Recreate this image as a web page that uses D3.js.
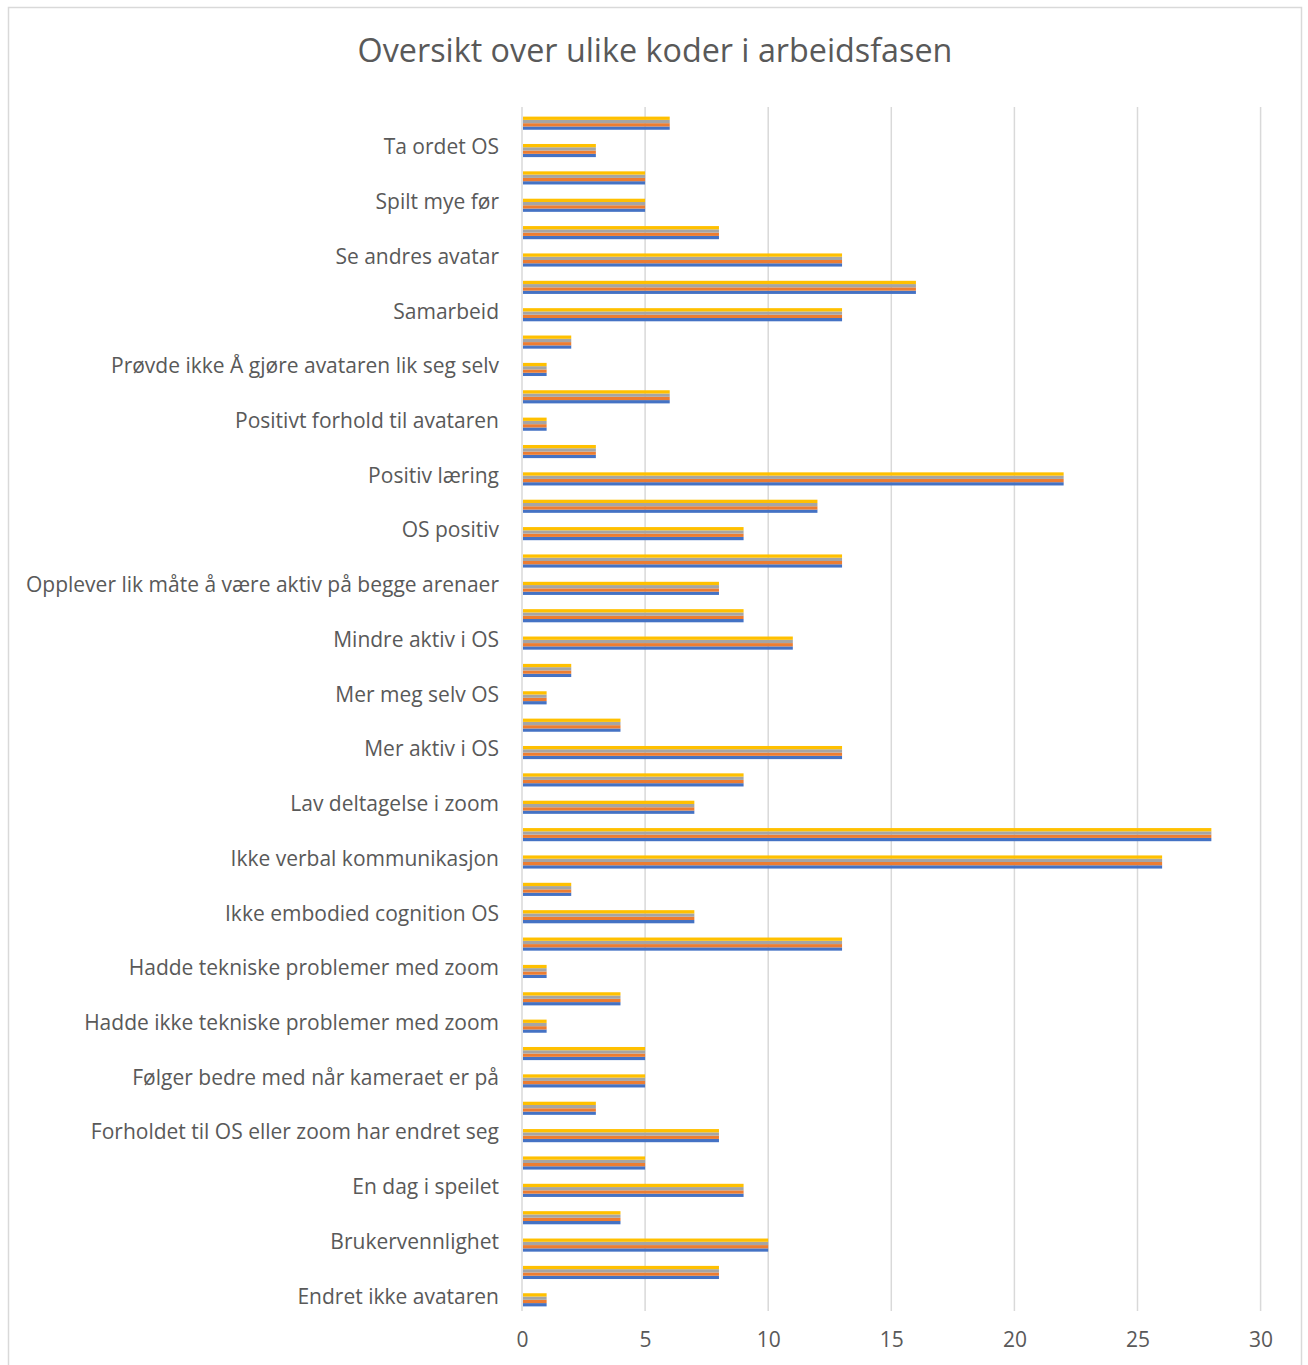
<!DOCTYPE html>
<html>
<head>
<meta charset="utf-8">
<script src="https://cdn.jsdelivr.net/npm/d3@7"></script>
<style>
  body { margin: 0; background: #fff; }
  svg { display: block; }
</style>
</head>
<body>
<svg id="chart" width="1308" height="1365"></svg>
<script>
// Chart title
const title = "Oversikt over ulike koder i arbeidsfasen";

// Categories top to bottom (only every other row has a visible label)
const categories = [
  "", "Ta ordet OS",
  "", "Spilt mye før",
  "", "Se andres avatar",
  "", "Samarbeid",
  "", "Prøvde ikke Å gjøre avataren lik seg selv",
  "", "Positivt forhold til avataren",
  "", "Positiv læring",
  "", "OS positiv",
  "", "Opplever lik måte å være aktiv på begge arenaer",
  "", "Mindre aktiv i OS",
  "", "Mer meg selv OS",
  "", "Mer aktiv i OS",
  "", "Lav deltagelse i zoom",
  "", "Ikke verbal kommunikasjon",
  "", "Ikke embodied cognition OS",
  "", "Hadde tekniske problemer med zoom",
  "", "Hadde ikke tekniske problemer med zoom",
  "", "Følger bedre med når kameraet er på",
  "", "Forholdet til OS eller zoom har endret seg",
  "", "En dag i speilet",
  "", "Brukervennlighet",
  "", "Endret ikke avataren"
];

// Counts per row, top to bottom
const values = [
  6, 3, 5, 5, 8, 13, 16, 13, 2, 1, 6, 1, 3, 22, 12, 9, 13, 8, 9, 11, 2, 1,
  4, 13, 9, 7, 28, 26, 2, 7, 13, 1, 4, 1, 5, 5, 3, 8, 5, 9, 4, 10, 8, 1
];

// Four series, all with the same counts (drawn bottom to top: blue, orange, gray, yellow)
const seriesNames = ["Serie1", "Serie2", "Serie3", "Serie4"];
const seriesValues = [values, values, values, values];
const seriesColors = ["#4472C4", "#ED7D31", "#A5A5A5", "#FFC000"];

const xTicks = [0, 5, 10, 15, 20, 25, 30];

const fontFamily = "'Open Sans', sans-serif";

const svg = d3.select("#chart");
const W = 1308, H = 1365;
const margin = {top: 107, right: 47, bottom: 54, left: 522};
const width = W - margin.left - margin.right;
const height = H - margin.top - margin.bottom;

// Outer chart border
svg.append("rect")
  .attr("x", 8.5).attr("y", 7.5)
  .attr("width", 1293).attr("height", 1370)
  .attr("fill", "#fff")
  .attr("stroke", "#d9d9d9")
  .attr("stroke-width", 1.5);

// Title
svg.append("text")
  .attr("x", 655).attr("y", 62)
  .attr("text-anchor", "middle")
  .attr("font-family", fontFamily)
  .attr("font-size", 32.3)
  .attr("fill", "#595959")
  .text(title);

const g = svg.append("g")
  .attr("transform", "translate(" + margin.left + "," + margin.top + ")");

const x = d3.scaleLinear()
  .domain([0, 30])
  .range([0, width - 0.4]);

const y = d3.scaleBand()
  .domain(d3.range(categories.length))
  .range([2.5, height + 2.5])
  .paddingInner(0.52)
  .paddingOuter(0.26);

// inner scale for the series inside one row, first series at the bottom
const ySeries = d3.scaleBand()
  .domain(d3.range(seriesNames.length).reverse())
  .range([0, y.bandwidth()]);

// Gridlines
g.selectAll(".grid")
  .data(xTicks)
  .enter()
  .append("line")
    .attr("class", "grid")
    .attr("x1", d => x(d)).attr("x2", d => x(d))
    .attr("y1", 0).attr("y2", height)
    .attr("stroke", "#d9d9d9")
    .attr("stroke-width", 1.5);

// Bars
seriesNames.forEach(function(name, s) {
  g.selectAll(".bar" + s)
    .data(seriesValues[s])
    .enter()
    .append("rect")
      .attr("class", "bar" + s)
      .attr("x", x(0) + 1)
      .attr("y", (d, i) => y(i) + ySeries(s))
      .attr("width", d => x(d) - x(0) - 1)
      .attr("height", ySeries.bandwidth())
      .attr("fill", seriesColors[s]);
});

// Category labels (left axis)
const yAxis = g.append("g")
  .call(d3.axisLeft(y).tickSize(0).tickPadding(23).tickFormat(i => categories[i]));
yAxis.select(".domain").remove();
yAxis.selectAll("text")
  .attr("font-family", fontFamily)
  .attr("font-size", 21)
  .attr("fill", "#595959")
  .attr("dy", "0.18em");

// X axis labels
const xAxis = g.append("g")
  .attr("transform", "translate(0," + height + ")")
  .call(d3.axisBottom(x).tickValues(xTicks).tickSize(0).tickPadding(21));
xAxis.select(".domain").remove();
xAxis.selectAll("text")
  .attr("font-family", fontFamily)
  .attr("font-size", 21)
  .attr("fill", "#595959");
</script>
</body>
</html>
